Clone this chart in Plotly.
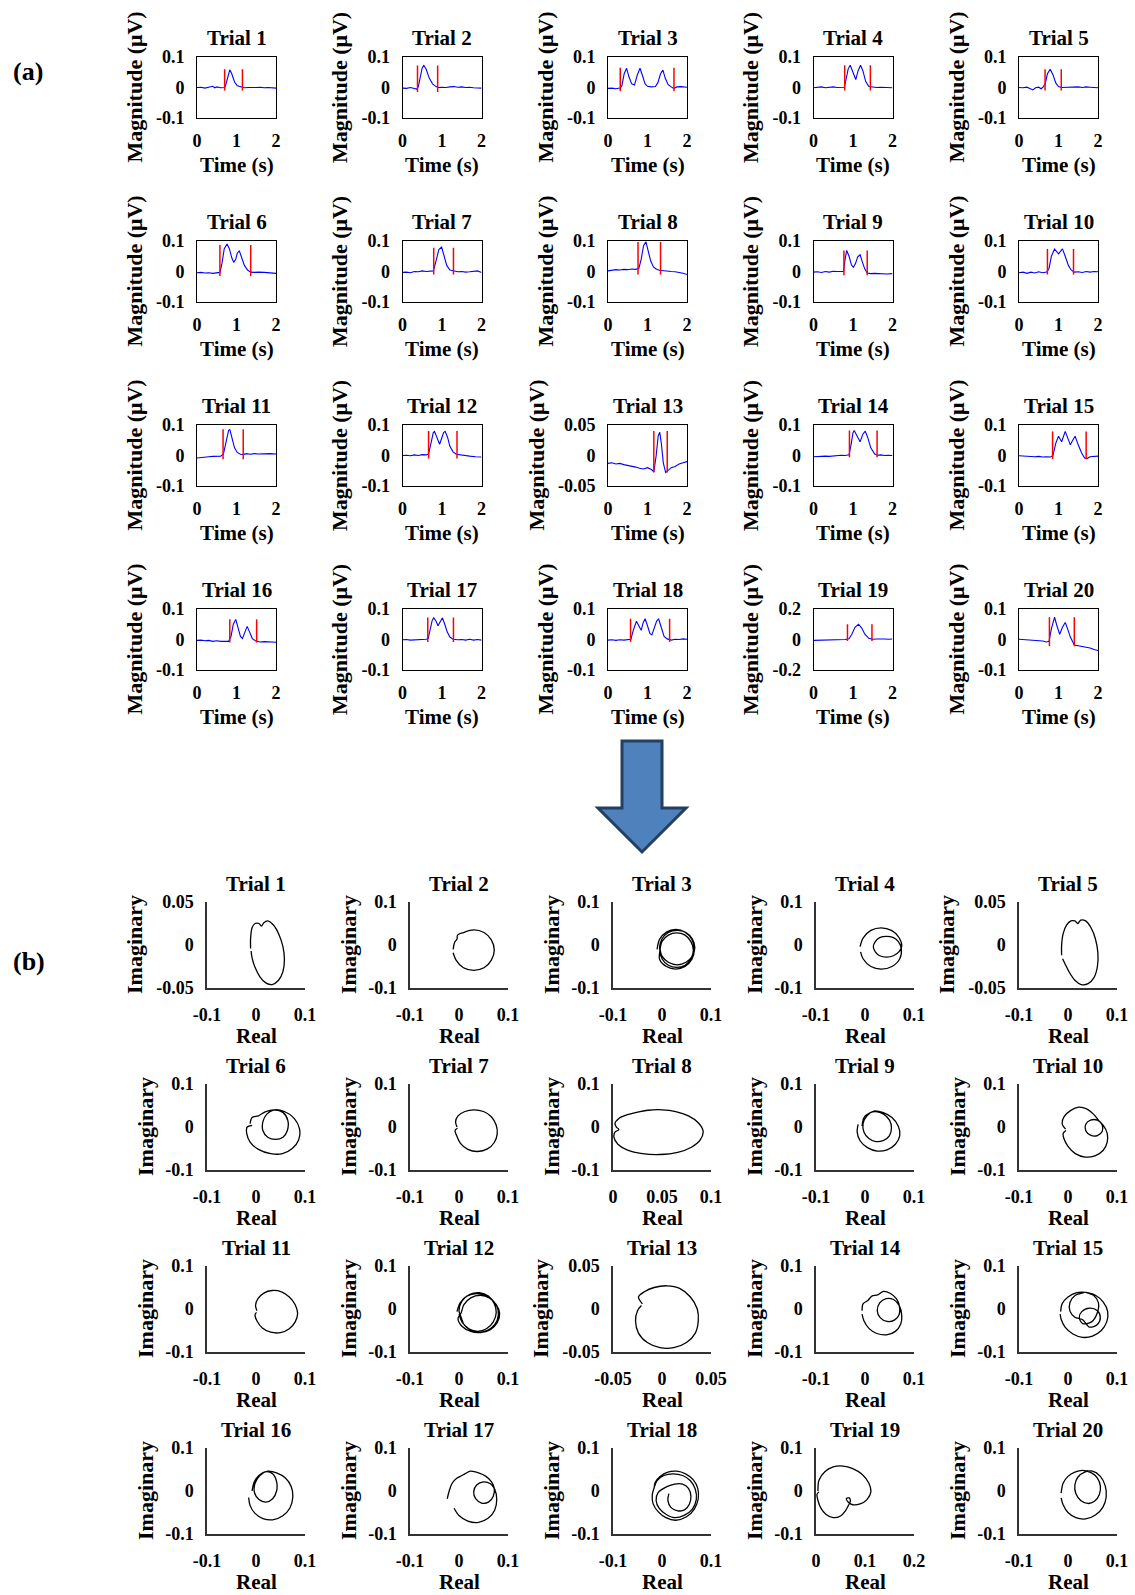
import plotly.graph_objects as go

W, H = 1135, 1595
FONT = "Liberation Serif, Times New Roman, serif"

trial_names = [f"Trial {i}" for i in range(1, 21)]

# ---------------- (a) time-domain signals: (time s, magnitude uV) ----------------
sig01 = [(0,0.000),(0.1,0.001),(0.2,-0.002),(0.3,0.000),(0.4,0.004),(0.45,-0.001),(0.5,0.002),(0.6,-0.001),(0.7,0.000),(0.72,0.005),(0.78,0.040),(0.83,0.058),(0.88,0.045),(0.95,0.018),(1.02,0.006),(1.1,0.002),(1.2,-0.001),(1.3,0.000),(1.4,-0.001),(1.5,0.000),(1.6,0.001),(1.7,-0.001),(1.8,0.000),(1.9,-0.002),(2.0,-0.002)]
sig02 = [(0,-0.002),(0.1,-0.003),(0.2,0.000),(0.3,-0.004),(0.36,-0.005),(0.4,0.002),(0.45,0.030),(0.5,0.065),(0.54,0.072),(0.6,0.060),(0.68,0.030),(0.76,0.012),(0.85,0.003),(0.9,0.000),(1.0,0.001),(1.1,0.000),(1.2,0.002),(1.3,0.003),(1.4,0.001),(1.5,0.002),(1.6,0.000),(1.7,0.001),(1.8,-0.001),(1.9,-0.002),(2.0,-0.002)]
sig03 = [(0,-0.003),(0.1,-0.002),(0.2,-0.004),(0.3,-0.002),(0.35,0.005),(0.41,0.045),(0.47,0.063),(0.53,0.035),(0.6,0.012),(0.67,0.008),(0.74,0.040),(0.81,0.063),(0.87,0.040),(0.94,0.012),(1.0,0.004),(1.1,0.002),(1.2,0.003),(1.26,0.015),(1.33,0.045),(1.39,0.057),(1.45,0.030),(1.52,0.010),(1.6,0.002),(1.66,-0.003),(1.75,0.002),(1.85,0.003),(2.0,0.001)]
sig04 = [(0,-0.001),(0.1,0.001),(0.2,0.002),(0.3,-0.001),(0.4,0.001),(0.5,0.002),(0.6,0.000),(0.7,0.001),(0.78,0.001),(0.83,0.030),(0.88,0.062),(0.93,0.073),(1.0,0.050),(1.07,0.026),(1.13,0.055),(1.19,0.073),(1.25,0.055),(1.32,0.020),(1.4,0.003),(1.5,0.001),(1.6,0.000),(1.7,0.001),(1.8,0.000),(1.9,-0.002),(2.0,-0.001)]
sig05 = [(0,0.000),(0.1,-0.001),(0.2,0.001),(0.3,-0.006),(0.35,-0.008),(0.42,-0.001),(0.5,0.001),(0.56,-0.004),(0.62,0.003),(0.67,0.015),(0.72,0.045),(0.79,0.060),(0.86,0.042),(0.93,0.015),(1.0,0.003),(1.07,0.000),(1.2,0.001),(1.3,0.000),(1.4,0.001),(1.5,0.002),(1.6,0.000),(1.7,0.002),(1.8,0.001),(1.9,0.000),(2.0,-0.001)]
sig06 = [(0,-0.004),(0.1,-0.003),(0.2,-0.005),(0.3,-0.004),(0.4,-0.006),(0.5,-0.003),(0.58,-0.003),(0.63,0.025),(0.69,0.075),(0.76,0.090),(0.82,0.075),(0.88,0.045),(0.93,0.030),(0.98,0.040),(1.02,0.060),(1.07,0.068),(1.13,0.045),(1.2,0.020),(1.28,0.005),(1.36,-0.002),(1.45,-0.003),(1.55,-0.002),(1.7,-0.003),(1.85,-0.005),(2.0,-0.006)]
sig07 = [(0,-0.003),(0.1,-0.002),(0.2,-0.004),(0.3,0.000),(0.4,-0.001),(0.5,0.002),(0.6,0.000),(0.7,0.001),(0.78,0.002),(0.85,0.035),(0.92,0.072),(0.99,0.080),(1.05,0.055),(1.12,0.020),(1.2,0.005),(1.3,0.002),(1.4,-0.001),(1.5,0.000),(1.6,-0.002),(1.7,-0.001),(1.8,0.000),(1.9,0.002),(2.0,-0.003)]
sig08 = [(0,0.002),(0.1,0.004),(0.2,0.006),(0.3,0.005),(0.4,0.007),(0.5,0.006),(0.6,0.008),(0.7,0.007),(0.78,0.010),(0.84,0.040),(0.9,0.085),(0.96,0.097),(1.02,0.070),(1.08,0.035),(1.15,0.015),(1.22,0.008),(1.3,0.004),(1.4,0.002),(1.5,0.001),(1.6,0.000),(1.7,-0.001),(1.8,-0.003),(1.9,-0.006),(2.0,-0.010)]
sig09 = [(0,-0.002),(0.1,-0.001),(0.2,-0.003),(0.3,0.000),(0.4,-0.002),(0.5,0.001),(0.6,0.000),(0.7,-0.001),(0.76,0.000),(0.8,0.040),(0.84,0.069),(0.9,0.050),(0.96,0.022),(1.01,0.014),(1.06,0.025),(1.12,0.048),(1.18,0.055),(1.24,0.030),(1.3,0.008),(1.36,-0.005),(1.45,-0.007),(1.55,-0.006),(1.7,-0.008),(1.85,-0.008),(2.0,-0.007)]
sig10 = [(0,-0.004),(0.1,-0.002),(0.2,-0.006),(0.3,-0.002),(0.4,-0.005),(0.5,-0.001),(0.6,-0.004),(0.7,-0.002),(0.76,0.010),(0.82,0.050),(0.9,0.074),(0.95,0.065),(1.0,0.058),(1.05,0.066),(1.1,0.074),(1.17,0.050),(1.25,0.020),(1.32,0.005),(1.4,-0.002),(1.5,-0.001),(1.6,-0.003),(1.7,0.000),(1.8,-0.002),(1.9,0.000),(2.0,-0.001)]
sig11 = [(0,-0.008),(0.1,-0.006),(0.2,-0.005),(0.3,-0.004),(0.4,-0.003),(0.5,-0.002),(0.6,-0.002),(0.67,0.005),(0.74,0.050),(0.8,0.082),(0.83,0.086),(0.88,0.060),(0.95,0.025),(1.02,0.010),(1.1,0.004),(1.17,0.003),(1.25,0.006),(1.35,0.004),(1.45,0.006),(1.55,0.005),(1.65,0.006),(1.75,0.005),(1.85,0.006),(2.0,0.005)]
sig12 = [(0,0.000),(0.1,0.001),(0.2,-0.001),(0.3,0.002),(0.4,0.000),(0.5,0.003),(0.6,0.002),(0.66,0.005),(0.72,0.040),(0.78,0.075),(0.81,0.079),(0.87,0.060),(0.94,0.037),(1.0,0.060),(1.04,0.075),(1.08,0.079),(1.14,0.060),(1.2,0.030),(1.28,0.012),(1.36,0.004),(1.45,0.002),(1.55,0.000),(1.7,-0.002),(1.85,-0.004),(2.0,-0.005)]
sig13 = [(0,-0.013),(0.1,-0.012),(0.2,-0.014),(0.3,-0.013),(0.4,-0.015),(0.5,-0.016),(0.6,-0.018),(0.7,-0.019),(0.8,-0.021),(0.9,-0.022),(1.0,-0.020),(1.1,-0.023),(1.16,-0.027),(1.22,0.000),(1.27,0.032),(1.31,0.038),(1.35,0.020),(1.4,-0.012),(1.46,-0.028),(1.52,-0.025),(1.6,-0.020),(1.7,-0.018),(1.8,-0.014),(1.9,-0.012),(2.0,-0.010)]
sig14 = [(0,-0.004),(0.1,-0.003),(0.2,-0.004),(0.3,-0.002),(0.4,-0.003),(0.5,-0.001),(0.6,0.000),(0.7,0.001),(0.8,0.000),(0.9,0.002),(0.95,0.035),(1.0,0.075),(1.03,0.082),(1.1,0.065),(1.18,0.045),(1.25,0.070),(1.31,0.080),(1.37,0.060),(1.45,0.025),(1.55,0.005),(1.62,0.001),(1.7,0.002),(1.8,0.000),(1.9,0.001),(2.0,0.000)]
sig15 = [(0,-0.001),(0.1,-0.002),(0.2,-0.003),(0.3,-0.002),(0.4,-0.004),(0.5,-0.003),(0.6,-0.005),(0.7,-0.004),(0.8,-0.005),(0.86,0.000),(0.93,0.040),(1.0,0.063),(1.08,0.045),(1.17,0.079),(1.24,0.055),(1.3,0.035),(1.36,0.050),(1.42,0.063),(1.5,0.035),(1.58,0.010),(1.66,-0.008),(1.72,-0.010),(1.8,-0.004),(1.9,-0.003),(2.0,-0.002)]
sig16 = [(0,-0.003),(0.1,-0.002),(0.2,-0.004),(0.3,-0.003),(0.4,-0.006),(0.5,-0.004),(0.6,-0.006),(0.7,-0.005),(0.8,-0.006),(0.86,0.010),(0.92,0.050),(0.98,0.066),(1.04,0.040),(1.1,0.010),(1.15,0.003),(1.2,0.020),(1.27,0.043),(1.33,0.025),(1.4,0.003),(1.5,-0.006),(1.6,-0.008),(1.7,-0.007),(1.8,-0.008),(1.9,-0.008),(2.0,-0.009)]
sig17 = [(0,-0.001),(0.1,0.000),(0.2,-0.002),(0.3,-0.001),(0.4,0.000),(0.5,-0.001),(0.6,0.001),(0.65,0.003),(0.7,0.030),(0.75,0.062),(0.79,0.071),(0.85,0.060),(0.9,0.045),(0.95,0.058),(1.01,0.071),(1.07,0.050),(1.13,0.025),(1.2,0.008),(1.28,0.001),(1.4,-0.001),(1.5,0.000),(1.6,-0.002),(1.7,0.001),(1.8,-0.002),(1.9,0.000),(2.0,-0.002)]
sig18 = [(0,-0.002),(0.1,-0.001),(0.2,-0.003),(0.3,-0.001),(0.4,-0.002),(0.5,0.000),(0.58,0.001),(0.64,0.030),(0.72,0.060),(0.78,0.045),(0.84,0.030),(0.89,0.055),(0.94,0.068),(1.0,0.045),(1.06,0.020),(1.11,0.015),(1.17,0.035),(1.23,0.060),(1.28,0.068),(1.34,0.045),(1.42,0.010),(1.5,0.002),(1.6,-0.002),(1.7,0.001),(1.8,0.000),(1.9,0.002),(2.0,0.001)]
sig19 = [(0,-0.006),(0.1,-0.005),(0.2,-0.004),(0.3,-0.005),(0.4,-0.003),(0.5,-0.002),(0.6,-0.003),(0.7,-0.001),(0.8,0.000),(0.9,0.005),(0.97,0.035),(1.05,0.080),(1.14,0.100),(1.22,0.075),(1.3,0.035),(1.4,0.008),(1.5,0.002),(1.6,0.003),(1.7,0.001),(1.8,0.003),(1.9,0.002),(2.0,0.003)]
sig20 = [(0,0.001),(0.1,0.000),(0.2,-0.001),(0.3,-0.002),(0.4,-0.003),(0.5,-0.002),(0.6,-0.005),(0.7,-0.008),(0.76,-0.006),(0.82,0.035),(0.9,0.073),(0.96,0.045),(1.03,0.017),(1.1,0.040),(1.17,0.056),(1.23,0.035),(1.3,0.008),(1.4,-0.018),(1.5,-0.020),(1.6,-0.022),(1.7,-0.026),(1.8,-0.028),(1.9,-0.033),(2.0,-0.036)]
signals = [sig01, sig02, sig03, sig04, sig05, sig06, sig07, sig08, sig09, sig10,
           sig11, sig12, sig13, sig14, sig15, sig16, sig17, sig18, sig19, sig20]

# onset / offset markers (red lines)
red_on  = [0.70, 0.38, 0.31, 0.79, 0.66, 0.58, 0.79, 0.76, 0.77, 0.72, 0.66, 0.66, 1.16, 0.91, 0.85, 0.83, 0.64, 0.57, 0.86, 0.77]
red_off = [1.15, 0.89, 1.67, 1.44, 1.07, 1.36, 1.29, 1.33, 1.36, 1.38, 1.17, 1.38, 1.50, 1.61, 1.70, 1.51, 1.29, 1.56, 1.48, 1.40]
red_lo  = [-0.010, -0.015, -0.012, -0.010, -0.010, -0.015, -0.010, -0.010, -0.012, -0.010, -0.012, -0.010, -0.028, -0.006, -0.012, -0.010, -0.008, -0.008, -0.010, -0.022]
red_hi  = [0.060, 0.072, 0.065, 0.073, 0.060, 0.087, 0.078, 0.097, 0.069, 0.074, 0.086, 0.080, 0.040, 0.082, 0.079, 0.066, 0.072, 0.068, 0.100, 0.073]

# y-axis half range of each time plot
top_ylim = [0.1, 0.1, 0.1, 0.1, 0.1, 0.1, 0.1, 0.1, 0.1, 0.1,
            0.1, 0.1, 0.05, 0.1, 0.1, 0.1, 0.1, 0.1, 0.2, 0.1]
top_xticks = [0, 1, 2]

# ---------------- (b) complex-plane trajectories: (real, imaginary) ----------------
loop01 = [(-0.011,-0.004),(-0.011,0.008),(-0.008,0.020),(-0.002,0.025),(0.006,0.025),(0.011,0.022),(0.016,0.026),(0.024,0.028),(0.036,0.023),(0.047,0.012),(0.055,-0.002),(0.058,-0.017),(0.055,-0.031),(0.046,-0.041),(0.033,-0.046),(0.020,-0.044),(0.008,-0.037),(-0.002,-0.026),(-0.008,-0.015),(-0.010,-0.007)]
loop02 = [(-0.012,-0.010),(-0.009,0.006),(-0.004,0.014),(-0.003,0.023),(0.009,0.029),(0.030,0.035),(0.051,0.029),(0.066,0.012),(0.072,-0.012),(0.066,-0.035),(0.051,-0.053),(0.030,-0.059),(0.009,-0.053),(-0.006,-0.035),(-0.012,-0.018)]
loop03 = [(-0.010,-0.010),(-0.005,0.013),(0.009,0.030),(0.028,0.036),(0.047,0.030),(0.061,0.013),(0.066,-0.010),(0.061,-0.033),(0.047,-0.050),(0.028,-0.056),(0.009,-0.050),(-0.005,-0.033),
          (-0.004,-0.012),(0.000,0.008),(0.013,0.023),(0.030,0.028),(0.047,0.023),(0.059,0.008),(0.064,-0.012),(0.059,-0.032),(0.047,-0.047),(0.030,-0.052),(0.013,-0.047),(0.000,-0.032),
          (-0.005,-0.006),(0.000,0.014),(0.013,0.029),(0.031,0.034),(0.049,0.029),(0.062,0.014),(0.067,-0.006),(0.062,-0.026),(0.049,-0.040),(0.031,-0.046),(0.013,-0.040),(0.000,-0.026),(-0.004,-0.010)]
loop04 = [(-0.010,-0.004),(-0.004,0.016),(0.012,0.034),(0.033,0.040),(0.054,0.034),(0.069,0.018),(0.075,-0.002),
          (0.070,-0.015),(0.058,-0.025),(0.044,-0.028),(0.030,-0.025),(0.021,-0.016),(0.017,-0.004),(0.021,0.008),(0.030,0.017),(0.044,0.020),(0.058,0.017),(0.068,0.008),(0.074,-0.008),
          (0.071,-0.032),(0.055,-0.050),(0.033,-0.056),(0.012,-0.050),(-0.004,-0.032),(-0.009,-0.016)]
loop05 = [(-0.013,-0.012),(-0.013,0.000),(-0.010,0.013),(-0.003,0.023),(0.006,0.028),(0.014,0.028),(0.020,0.025),(0.026,0.029),(0.036,0.028),(0.047,0.020),(0.056,0.007),(0.061,-0.009),(0.060,-0.025),(0.053,-0.038),(0.041,-0.045),(0.027,-0.046),(0.014,-0.041),(0.003,-0.032),(-0.006,-0.022),(-0.011,-0.016)]
loop06 = [(-0.012,0.008),(-0.008,0.022),(0.005,0.026),(0.020,0.036),(0.037,0.040),(0.055,0.034),(0.065,0.015),(0.064,-0.008),(0.055,-0.024),(0.040,-0.029),(0.024,-0.024),(0.014,-0.008),(0.014,0.012),(0.022,0.030),(0.037,0.040),
          (0.058,0.036),(0.078,0.020),(0.089,-0.005),(0.087,-0.030),(0.074,-0.050),(0.054,-0.062),(0.030,-0.062),(0.005,-0.052),(-0.012,-0.035),(-0.019,-0.015),(-0.018,0.000),(-0.008,0.004)]
loop07 = [(-0.004,0.000),(-0.007,0.012),(-0.002,0.026),(0.012,0.036),(0.030,0.040),(0.050,0.036),(0.066,0.024),(0.076,0.004),(0.078,-0.016),(0.072,-0.036),(0.058,-0.051),(0.038,-0.057),(0.018,-0.052),(0.003,-0.038),(-0.005,-0.020),(-0.008,-0.008),(-0.003,-0.003)]
loop08 = [(0.004,-0.002),(0.002,0.008),(0.006,0.020),(0.014,0.028),(0.024,0.034),(0.036,0.039),(0.050,0.040),(0.064,0.036),(0.077,0.026),(0.087,0.010),(0.092,-0.010),(0.089,-0.030),(0.080,-0.047),(0.066,-0.059),(0.048,-0.064),(0.030,-0.062),(0.015,-0.054),(0.005,-0.040),(0.001,-0.024),(0.002,-0.012),(0.006,-0.006),(0.003,0.000)]
loop09 = [(-0.006,0.002),(-0.002,0.022),(0.010,0.033),(0.022,0.036),(0.038,0.030),(0.050,0.016),(0.054,-0.002),(0.050,-0.020),(0.038,-0.031),(0.022,-0.034),(0.008,-0.027),(-0.002,-0.012),(-0.004,0.008),(0.004,0.026),(0.018,0.037),
          (0.036,0.034),(0.055,0.022),(0.068,0.002),(0.071,-0.020),(0.062,-0.040),(0.045,-0.053),(0.025,-0.056),(0.005,-0.048),(-0.010,-0.032),(-0.016,-0.012),(-0.014,0.006)]
loop10 = [(-0.005,-0.005),(-0.012,0.008),(-0.008,0.024),(0.005,0.038),(0.022,0.046),(0.038,0.042),(0.052,0.030),(0.062,0.016),
          (0.070,0.004),(0.070,-0.010),(0.060,-0.020),(0.046,-0.019),(0.036,-0.008),(0.036,0.006),(0.046,0.016),(0.060,0.016),(0.072,0.004),
          (0.080,-0.015),(0.080,-0.035),(0.072,-0.054),(0.055,-0.067),(0.035,-0.070),(0.015,-0.062),(0.000,-0.045),(-0.008,-0.028),(-0.010,-0.015),(-0.004,-0.008)]
loop11 = [(0.002,-0.004),(-0.001,0.008),(0.004,0.024),(0.016,0.037),(0.033,0.043),(0.052,0.040),(0.068,0.028),(0.080,0.010),(0.085,-0.010),(0.080,-0.030),(0.068,-0.046),(0.050,-0.055),(0.030,-0.054),(0.013,-0.044),(0.002,-0.028),(-0.002,-0.014),(0.001,-0.008)]
loop12 = [(-0.004,-0.006),(0.002,0.014),(0.016,0.030),(0.036,0.036),(0.056,0.031),(0.072,0.016),(0.080,-0.004),(0.078,-0.026),(0.066,-0.044),(0.046,-0.054),(0.024,-0.052),(0.006,-0.040),(-0.002,-0.022),
          (0.004,-0.010),(0.010,0.010),(0.024,0.026),(0.044,0.032),(0.062,0.026),(0.076,0.010),(0.083,-0.010),(0.078,-0.032),(0.064,-0.048),(0.044,-0.055),(0.024,-0.050),(0.010,-0.036),(0.004,-0.018),
          (0.000,-0.004),(0.006,0.018),(0.022,0.034),(0.042,0.038),(0.060,0.030),(0.072,0.012),(0.076,-0.008),(0.070,-0.030),(0.056,-0.046),(0.038,-0.052),(0.020,-0.046),(0.006,-0.030),(0.000,-0.012)]
loop13 = [(-0.020,0.006),(-0.024,0.014),(-0.018,0.020),(-0.008,0.025),(0.005,0.027),(0.018,0.024),(0.029,0.014),(0.036,0.000),(0.037,-0.014),(0.034,-0.028),(0.025,-0.039),(0.012,-0.045),(-0.002,-0.045),(-0.015,-0.039),(-0.024,-0.028),(-0.027,-0.014),(-0.025,-0.002),(-0.021,0.004)]
loop14 = [(-0.006,-0.004),(-0.004,0.012),(0.006,0.020),(0.014,0.030),(0.026,0.033),(0.038,0.041),(0.052,0.036),(0.064,0.024),
          (0.070,0.008),(0.070,-0.012),(0.060,-0.026),(0.045,-0.029),(0.031,-0.020),(0.025,-0.004),(0.030,0.014),(0.043,0.024),(0.058,0.022),(0.070,0.008),
          (0.075,-0.015),(0.073,-0.035),(0.062,-0.052),(0.044,-0.060),(0.024,-0.057),(0.008,-0.045),(-0.002,-0.028),(-0.006,-0.012)]
loop15 = [(-0.015,-0.006),(-0.012,0.012),(0.000,0.028),(0.018,0.038),(0.035,0.039),
          (0.015,0.032),(0.004,0.015),(0.004,-0.005),(0.014,-0.019),(0.030,-0.025),
          (0.044,-0.042),(0.060,-0.036),(0.066,-0.020),(0.060,-0.004),(0.044,0.002),(0.028,-0.006),(0.023,-0.020),(0.030,-0.034),
          (0.048,-0.030),(0.060,-0.008),(0.062,0.015),(0.052,0.032),(0.036,0.039),
          (0.056,0.032),(0.072,0.016),(0.081,-0.006),(0.079,-0.030),(0.068,-0.050),(0.050,-0.063),(0.030,-0.066),(0.010,-0.058),(-0.006,-0.042),(-0.014,-0.024),(-0.016,-0.012)]
loop16 = [(-0.008,0.000),(-0.004,0.020),(0.006,0.036),(0.020,0.045),(0.034,0.040),(0.042,0.022),(0.042,0.000),(0.034,-0.018),(0.020,-0.026),(0.006,-0.020),(-0.003,-0.004),(-0.002,0.018),(0.008,0.036),(0.024,0.046),
          (0.042,0.042),(0.060,0.030),(0.072,0.010),(0.075,-0.015),(0.069,-0.040),(0.054,-0.058),(0.034,-0.067),(0.014,-0.064),(-0.002,-0.052),(-0.012,-0.034),(-0.015,-0.015)]
loop17 = [(-0.024,-0.018),(-0.020,0.000),(-0.014,0.018),(-0.004,0.030),(0.006,0.036),(0.012,0.040),(0.024,0.046),(0.040,0.042),(0.055,0.034),(0.066,0.022),
          (0.072,0.006),(0.070,-0.012),(0.060,-0.026),(0.046,-0.028),(0.034,-0.018),(0.030,-0.002),(0.036,0.014),(0.050,0.021),(0.064,0.017),(0.073,0.004),
          (0.077,-0.020),(0.073,-0.044),(0.060,-0.063),(0.040,-0.073),(0.018,-0.070),(0.000,-0.057),(-0.010,-0.040)]
loop18 = [(-0.016,0.006),(-0.014,0.020),(-0.004,0.034),(0.012,0.044),(0.030,0.046),(0.048,0.040),(0.064,0.026),(0.073,0.006),(0.074,-0.018),(0.066,-0.042),(0.050,-0.060),(0.028,-0.068),(0.008,-0.062),(-0.008,-0.048),(-0.018,-0.030),(-0.020,-0.010),(-0.016,0.008),
          (-0.010,0.024),(0.004,0.036),(0.022,0.040),(0.042,0.036),(0.058,0.024),(0.068,0.004),(0.070,-0.020),(0.062,-0.042),(0.046,-0.056),(0.026,-0.062),(0.008,-0.054),(-0.006,-0.040),(-0.012,-0.022),(-0.008,-0.004),
          (0.010,0.010),(0.026,0.016),(0.042,0.016),(0.054,0.006),(0.059,-0.012),(0.056,-0.030),(0.046,-0.044),(0.032,-0.046),(0.018,-0.038),(0.012,-0.022),(0.014,-0.006)]
loop19 = [(0.004,0.000),(0.006,0.025),(0.018,0.045),(0.035,0.056),(0.055,0.058),(0.075,0.052),(0.095,0.038),(0.108,0.018),(0.112,-0.002),(0.104,-0.020),(0.090,-0.030),(0.075,-0.032),(0.066,-0.026),(0.062,-0.018),(0.068,-0.016),(0.070,-0.024),(0.066,-0.034),(0.060,-0.046),(0.050,-0.058),(0.035,-0.062),(0.020,-0.054),(0.010,-0.040),(0.004,-0.022),(0.002,-0.008),(0.006,-0.002)]
loop20 = [(-0.014,-0.005),(-0.010,0.018),(0.000,0.034),(0.014,0.044),(0.030,0.048),(0.048,0.042),
          (0.060,0.030),(0.066,0.012),(0.064,-0.008),(0.054,-0.024),(0.040,-0.029),(0.026,-0.022),(0.016,-0.006),(0.014,0.014),(0.020,0.032),(0.034,0.044),(0.050,0.046),
          (0.066,0.034),(0.076,0.012),(0.078,-0.014),(0.071,-0.038),(0.056,-0.056),(0.036,-0.065),(0.016,-0.062),(0.000,-0.050),(-0.010,-0.032),(-0.014,-0.016)]
loops = [loop01, loop02, loop03, loop04, loop05, loop06, loop07, loop08, loop09, loop10,
         loop11, loop12, loop13, loop14, loop15, loop16, loop17, loop18, loop19, loop20]

bot_xrange = [(-0.1, 0.1)] * 7 + [(0.0, 0.1)] + [(-0.1, 0.1)] * 4 + [(-0.05, 0.05)] + [(-0.1, 0.1)] * 5 + [(0.0, 0.2)] + [(-0.1, 0.1)]
bot_yrange = [(-0.05, 0.05), (-0.1, 0.1), (-0.1, 0.1), (-0.1, 0.1), (-0.05, 0.05)] + [(-0.1, 0.1)] * 7 + [(-0.05, 0.05)] + [(-0.1, 0.1)] * 7

def fmt(v):
    return "%g" % v

# ---------------- figure ----------------
fig = go.Figure()
layout_axes = {}
annotations = []

def px2fx(x):
    return x / W

def px2fy(y):
    return 1 - y / H

tickfont = dict(family=FONT, size=18, color="black", weight="bold")
labfont = dict(family=FONT, size=21, color="black", weight="bold")
ylabfont = dict(family=FONT, size=22, color="black", weight="bold")

def add_ann(text, x, y, angle=0, font=labfont):
    annotations.append(dict(text=text, x=px2fx(x), y=px2fy(y), xref="paper", yref="paper",
                            xanchor="center", yanchor="middle", showarrow=False,
                            textangle=angle, font=font))

common = dict(showgrid=False, zeroline=False, ticks="", automargin=False, fixedrange=True)

# top grid
TW, TH = 79, 61
for i in range(20):
    r, c = divmod(i, 5)
    k = i + 1
    L = 197 + 205.5 * c
    T = 57 + 184 * r
    xa = "xaxis" if k == 1 else f"xaxis{k}"
    ya = "yaxis" if k == 1 else f"yaxis{k}"
    xr = "x" if k == 1 else f"x{k}"
    yr = "y" if k == 1 else f"y{k}"
    lim = top_ylim[i]
    layout_axes[xa] = dict(domain=[px2fx(L), px2fx(L + TW)], anchor=yr, range=[0, 2],
                           showline=True, mirror=True, linecolor="black", linewidth=1,
                           tickvals=top_xticks, ticktext=[fmt(v) for v in top_xticks],
                           tickfont=tickfont, ticklabelstandoff=6, **common)
    yt = [-lim, 0, lim]
    layout_axes[ya] = dict(domain=[px2fy(T + TH), px2fy(T)], anchor=xr, range=[-lim, lim],
                           showline=True, mirror=True, linecolor="black", linewidth=1,
                           tickvals=yt, ticktext=[fmt(v) for v in yt],
                           tickfont=tickfont, ticklabelstandoff=8, **common)
    ts = [p[0] for p in signals[i]]
    vs = [p[1] for p in signals[i]]
    fig.add_trace(go.Scatter(x=ts, y=vs, mode="lines", line=dict(color="#0000FF", width=1.1),
                             xaxis=xr, yaxis=yr, showlegend=False, hoverinfo="skip"))
    fig.add_trace(go.Scatter(x=[red_on[i], red_on[i], None, red_off[i], red_off[i]],
                             y=[red_lo[i], red_hi[i], None, red_lo[i], red_hi[i]],
                             mode="lines", line=dict(color="#FF0000", width=1.5),
                             xaxis=xr, yaxis=yr, showlegend=False, hoverinfo="skip"))
    add_ann(trial_names[i], L + TW / 2, T - 19)
    add_ann("Time (s)", L + TW / 2, T + TH + 47)
    add_ann("Magnitude (μV)", L - (72 if lim == 0.05 else 63), T + TH / 2, angle=-90, font=ylabfont)

# bottom grid
BW, BH = 98, 86
for i in range(20):
    r, c = divmod(i, 5)
    k = i + 21
    L = 207 + 203 * c
    T = 902 + 182 * r
    xa, ya = f"xaxis{k}", f"yaxis{k}"
    xr, yr = f"x{k}", f"y{k}"
    x0, x1 = bot_xrange[i]
    y0, y1 = bot_yrange[i]
    xt = [x0, (x0 + x1) / 2, x1]
    yt = [y0, (y0 + y1) / 2, y1]
    layout_axes[xa] = dict(domain=[px2fx(L), px2fx(L + BW)], anchor=yr, range=[x0, x1],
                           showline=True, mirror=False, linecolor="#333333", linewidth=1.5,
                           tickvals=xt, ticktext=[fmt(round(v, 3)) for v in xt],
                           tickfont=tickfont, ticklabelstandoff=10, **common)
    layout_axes[ya] = dict(domain=[px2fy(T + BH), px2fy(T)], anchor=xr, range=[y0, y1],
                           showline=True, mirror=False, linecolor="#333333", linewidth=1.5,
                           tickvals=yt, ticktext=[fmt(round(v, 3)) for v in yt],
                           tickfont=tickfont, ticklabelstandoff=8, **common)
    re = [p[0] for p in loops[i]]
    im = [p[1] for p in loops[i]]
    fig.add_trace(go.Scatter(x=re, y=im, mode="lines",
                             line=dict(color="black", width=1.3, shape="spline", smoothing=0.9),
                             xaxis=xr, yaxis=yr, showlegend=False, hoverinfo="skip"))
    add_ann(trial_names[i], L + BW / 2, T - 18)
    add_ann("Real", L + BW / 2, T + BH + 48)
    add_ann("Imaginary", L - (73 if y1 == 0.05 else 62), T + BH / 2, angle=-90, font=ylabfont)

# panel labels
plfont = dict(family=FONT, size=26, color="black", weight="bold")
add_ann("(a)", 28, 72, font=plfont)
add_ann("(b)", 29, 961, font=plfont)

# arrow between panels
arrow_px = [(622, 741), (662, 741), (662, 808), (686, 808), (642, 852), (598, 808), (622, 808)]
path = "M " + " L ".join(f"{px2fx(x):.5f},{px2fy(y):.5f}" for x, y in arrow_px) + " Z"
shapes = [dict(type="path", path=path, xref="paper", yref="paper",
               fillcolor="#4F81BD", line=dict(color="#243F60", width=3))]

fig.update_layout(template="none", width=W, height=H,
                  margin=dict(l=0, r=0, t=0, b=0, pad=0, autoexpand=False),
                  paper_bgcolor="white", plot_bgcolor="white",
                  annotations=annotations, shapes=shapes, showlegend=False,
                  font=dict(family=FONT), **layout_axes)

fig.write_html("out.html")
